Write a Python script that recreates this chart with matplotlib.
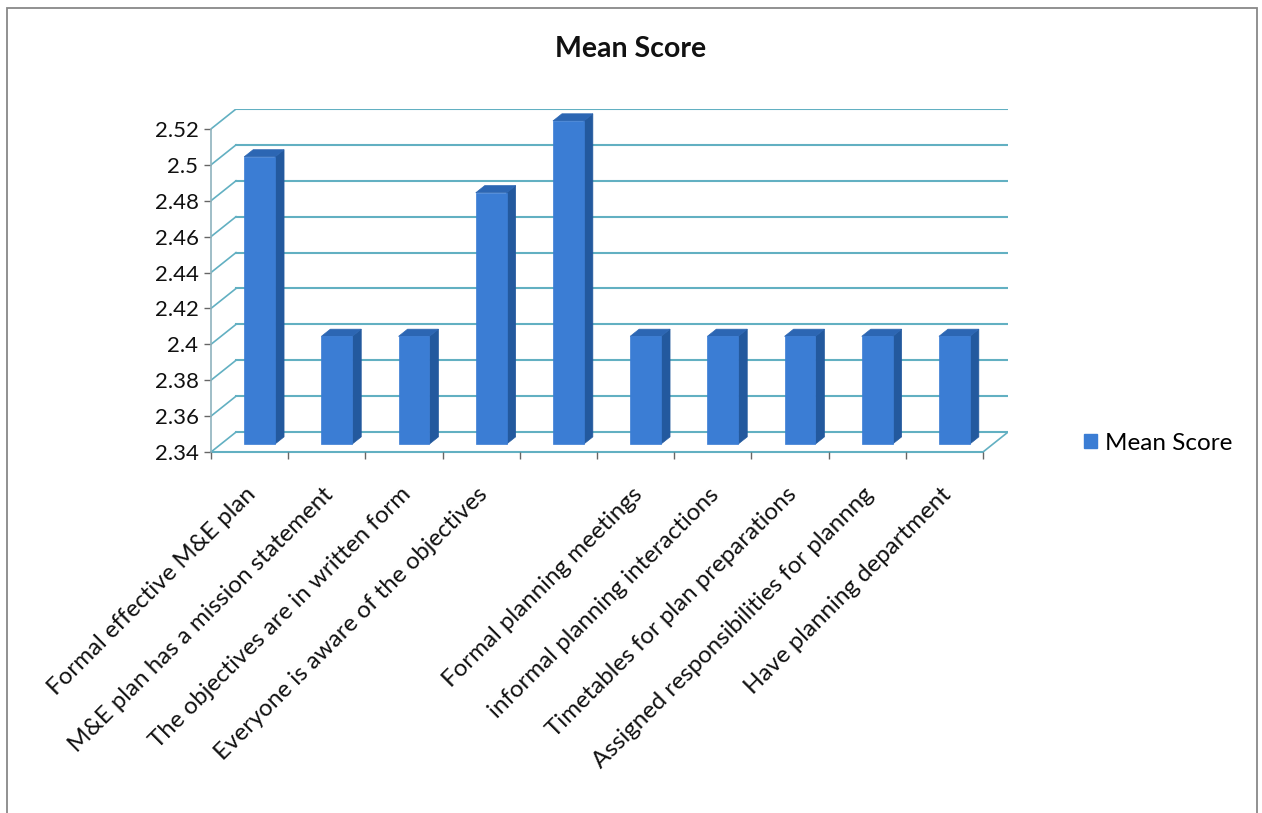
import matplotlib
matplotlib.use("Agg")
import matplotlib.pyplot as plt
from matplotlib.patches import Polygon, Rectangle, Patch
from matplotlib.transforms import offset_copy

plt.rcParams['font.family'] = ['Lato', 'DejaVu Sans']

# --- data ---
categorias = [
    "Formal effective M&E plan",
    "M&E plan has a mission statement",
    "The objectives are in written form",
    "Everyone is aware of the objectives",
    "",
    "Formal planning meetings",
    "informal planning interactions",
    "Timetables for plan preparations",
    "Assigned responsibilities for plannng",
    "Have planning department",
]
medias = [2.5, 2.4, 2.4, 2.48, 2.52, 2.4, 2.4, 2.4, 2.4, 2.4]
ticks_y = [2.34, 2.36, 2.38, 2.40, 2.42, 2.44, 2.46, 2.48, 2.50, 2.52]
titulo = "Mean Score"

# --- 3D look parameters (depth offset in data units) ---
YMIN, YMAX = 2.34, 2.52
DX, DY = 0.324, 0.0111
ANCHO = 0.40
D0, D1 = 0.40, 0.76
C_FRENTE = '#3b7dd4'
C_LADO = '#23599e'
C_TOPE = '#2c66b3'
C_GRID = '#62b0c2'

W, H = 1262, 813
fig = plt.figure(figsize=(W / 100, H / 100), dpi=100)
n = len(medias)
ax = fig.add_axes([211 / W, (H - 452) / H, 797 / W, 343 / H])
ax.set_xlim(0, n + DX)
ax.set_ylim(YMIN, YMAX + DY)
for s in ax.spines.values():
    s.set_visible(False)

# back wall and side wall grid
for v in ticks_y:
    ax.plot([DX, n + DX], [v + DY, v + DY], color=C_GRID, lw=1.5, zorder=1)
    ax.plot([0, DX], [v, v + DY], color=C_GRID, lw=1.2, zorder=1)
# floor
ax.plot([0, n], [YMIN, YMIN], color=C_GRID, lw=1.5, zorder=1, clip_on=False)
ax.plot([n, n + DX], [YMIN, YMIN + DY], color=C_GRID, lw=1.2, zorder=1)
# front value axis
ax.plot([0, 0], [YMIN, YMAX], color='#8fb3bd', lw=1.2, zorder=2, clip_on=False)

# bars: front face with ax.bar, side and top as polygons
xs = [i + 0.5 + D0 * DX for i in range(n)]
alturas = [v - YMIN for v in medias]
ax.bar(xs, alturas, width=ANCHO, bottom=YMIN + D0 * DY, color=C_FRENTE,
       edgecolor=C_FRENTE, lw=0.5, zorder=4)
dd = D1 - D0
for x, v in zip(xs, medias):
    x1 = x + ANCHO / 2
    x0 = x - ANCHO / 2
    yb = YMIN + D0 * DY
    yt = v + D0 * DY
    lado = Polygon([(x1, yb), (x1 + dd * DX, yb + dd * DY),
                    (x1 + dd * DX, yt + dd * DY), (x1, yt)],
                   closed=True, facecolor=C_LADO, edgecolor=C_LADO, lw=0.5, zorder=3)
    tope = Polygon([(x0, yt), (x1, yt), (x1 + dd * DX, yt + dd * DY),
                    (x0 + dd * DX, yt + dd * DY)],
                   closed=True, facecolor=C_TOPE, edgecolor=C_TOPE, lw=0.5, zorder=3)
    ax.add_patch(lado)
    ax.add_patch(tope)

# ticks
ax.set_yticks(ticks_y)
ax.set_yticklabels([f"{v:g}" for v in ticks_y], fontsize=16, color='#111111')
ax.tick_params(axis='y', length=5, width=1, color='#666666', pad=4)
ax.set_xticks(range(n + 1))
ax.set_xticklabels([])
ax.tick_params(axis='x', length=5, width=1, color='#666666')

# category labels rotated 45 degrees
for i, etiqueta in enumerate(categorias):
    if not etiqueta:
        continue
    tr = offset_copy(ax.transData, fig=fig, x=3, y=-39, units='dots')
    ax.text(i + 0.5, YMIN, etiqueta, transform=tr, rotation=45,
            rotation_mode='anchor', ha='right', va='center',
            fontsize=17.4, color='#111111')

fig.text(631 / W, 1 - 49 / H, titulo, ha='center', va='center',
         fontsize=20.5, fontweight='bold', color='#111111')

fig.legend(handles=[Patch(facecolor=C_FRENTE, edgecolor=C_FRENTE, label='Mean Score')],
           loc='center left', bbox_to_anchor=(1062 / W, 1 - 443 / H),
           frameon=False, fontsize=17.5, handlelength=0.55, handleheight=0.55,
           handletextpad=0.3)

# chart border
fig.patches.append(Rectangle((7 / W, -0.01), 1250 / W, 1 - 8 / H + 0.01,
                             transform=fig.transFigure, fill=False,
                             edgecolor='#888888', lw=1.3))

fig.savefig("out.png", dpi=100)
